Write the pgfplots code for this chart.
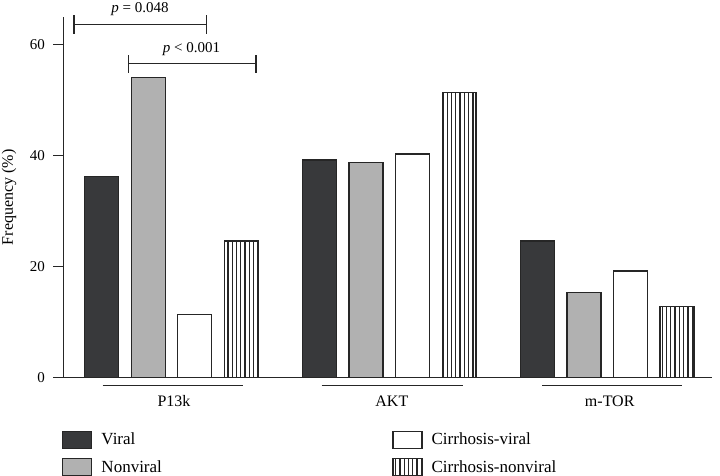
\documentclass[border=0pt]{standalone}
\usepackage{fontspec}
\setmainfont{Liberation Serif}
\usepackage{pgfplots}
\pgfplotsset{compat=1.18}
\usetikzlibrary{patterns.meta}

\definecolor{viral}{HTML}{38393B}
\definecolor{nonviral}{HTML}{B1B1B1}
\definecolor{edge}{HTML}{262626}

\newcommand{\fs}{\fontsize{15}{18}\selectfont}
\newcommand{\fm}{\fontsize{16}{19}\selectfont}
\newcommand{\fl}{\fontsize{17}{20}\selectfont}
\pgfplotsset{boxlegend/.style={legend image code/.code={\draw[##1] (0pt,-8.5pt) rectangle (29pt,8.5pt);}}}

\begin{document}
\begin{tikzpicture}
\begin{axis}[
  scale only axis, width=648.5pt, height=360.5pt,
  xmin=-0.496, xmax=2.481, ymin=0, ymax=65,
  axis x line*=bottom, axis y line*=left,
  axis line style={-, line width=1.2pt, draw=edge},
  ytick={0,20,40,60},
  y tick style={line width=1.2pt, draw=edge},
  tick align=outside, major tick length=10pt,
  xtick={0,1,2}, xticklabels={P13k,AKT,m-TOR},
  x tick style={draw=none},
  tick label style={font=\fs},
  /pgf/number format/assume math mode=true,
  xticklabel style={font=\fm, anchor=base, yshift=-19pt, xshift=2.5pt},
  yticklabel style={xshift=-5pt},
  ylabel={Frequency (\%)},
  ylabel style={font=\fm, at={(axis description cs:-0.084,0.5)}, anchor=center},
  clip=false,
  legend cell align=left,
  transpose legend, legend columns=2,
  legend style={draw=none, fill=none, inner sep=0pt, font=\fl,
    at={(axis description cs:0,0)}, anchor=north west, xshift=-1.4pt, yshift=-53pt,
    row sep=9.3pt, nodes={inner sep=2pt},
    /tikz/every odd column/.append style={column sep=7pt},
    /tikz/every even column/.append style={column sep=228.5pt}},
]
\addplot[ybar, bar width=0.156, bar shift=-0.32, fill=viral, draw=edge, line width=1.2pt, boxlegend]
  coordinates {(0,36.2) (1,39.2) (2,24.6)};
\addlegendentry{Viral}
\addplot[ybar, bar width=0.156, bar shift=-0.107, fill=nonviral, draw=edge, line width=1.2pt, boxlegend]
  coordinates {(0,54.1) (1,38.7) (2,15.3)};
\addlegendentry{Nonviral}
\addplot[ybar, bar width=0.156, bar shift=0.107, fill=white, draw=edge, line width=1.2pt, boxlegend]
  coordinates {(0,11.4) (1,40.3) (2,19.2)};
\addlegendentry{Cirrhosis-viral}
\addplot[ybar, bar width=0.156, bar shift=0.32, fill=white,
  postaction={pattern={Lines[angle=90,distance=4.3pt,line width=1.3pt]}, pattern color=edge},
  draw=edge, line width=1.2pt, boxlegend]
  coordinates {(0,24.6) (1,51.4) (2,12.8)};
\addlegendentry{Cirrhosis-nonviral}

\coordinate (O) at (rel axis cs:0,0);

% group underlines
\draw[line width=1.2pt, edge] ([yshift=-8pt]axis cs:-0.316,0) -- ([yshift=-8pt]axis cs:0.328,0);
\draw[line width=1.2pt, edge] ([yshift=-8pt]axis cs:0.689,0) -- ([yshift=-8pt]axis cs:1.339,0);
\draw[line width=1.2pt, edge] ([yshift=-8pt]axis cs:1.702,0) -- ([yshift=-8pt]axis cs:2.342,0);

% significance brackets
\draw[line width=1.2pt, edge] (axis cs:-0.448,63.7) -- (axis cs:0.161,63.7);
\draw[line width=1.2pt, edge] ([yshift=-9.5pt]axis cs:-0.448,63.7) -- ([yshift=9.5pt]axis cs:-0.448,63.7);
\draw[line width=1.2pt, edge] ([yshift=-9.5pt]axis cs:0.161,63.7) -- ([yshift=9.5pt]axis cs:0.161,63.7);
\node[anchor=base, font=\fs, inner sep=0pt] at (axis cs:-0.145,65.9) {\textit{p} = 0.048};

\draw[line width=1.2pt, edge] (axis cs:-0.196,56.6) -- (axis cs:0.388,56.6);
\draw[line width=1.2pt, edge] ([yshift=-9pt]axis cs:-0.196,56.6) -- ([yshift=9pt]axis cs:-0.196,56.6);
\draw[line width=1.2pt, edge] ([yshift=-9pt]axis cs:0.388,56.6) -- ([yshift=9pt]axis cs:0.388,56.6);
\node[anchor=base, font=\fs, inner sep=0pt] at (axis cs:0.092,58.6) {\textit{p} < 0.001};
\end{axis}
\pgfresetboundingbox
\useasboundingbox ([xshift=-63.5pt,yshift=-98.5pt]O) rectangle ([xshift=656.5pt,yshift=377.5pt]O);
\end{tikzpicture}
\end{document}
